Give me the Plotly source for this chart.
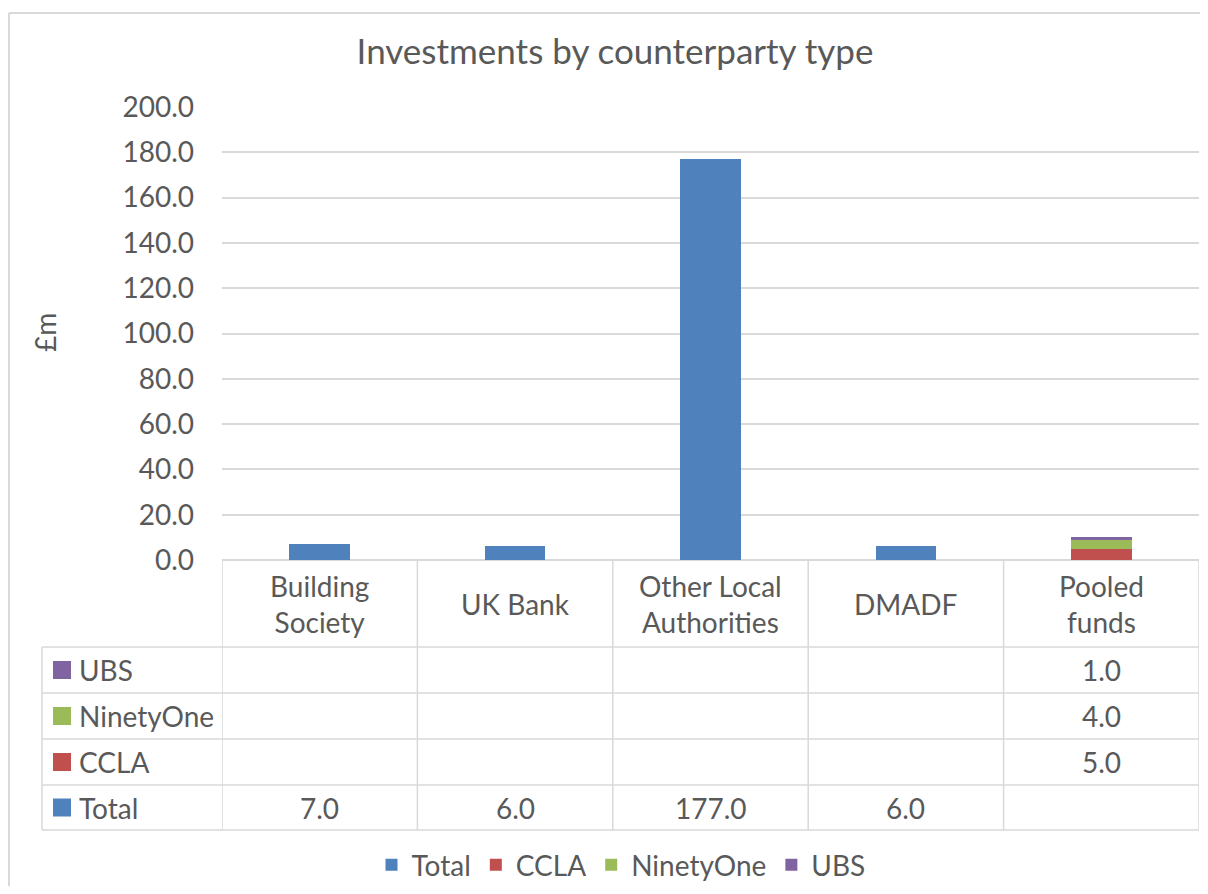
import plotly.graph_objects as go

categories = ["Building Society", "UK Bank", "Other Local Authorities", "DMADF", "Pooled funds"]
category_labels = ["Building<br>Society", "UK Bank", "Other Local<br>Authorities", "DMADF", "Pooled<br>funds"]
total = [7.0, 6.0, 177.0, 6.0, None]
ccla = [None, None, None, None, 5.0]
ninetyone = [None, None, None, None, 4.0]
ubs = [None, None, None, None, 1.0]
y_ticks = [0, 20, 40, 60, 80, 100, 120, 140, 160, 180, 200]

series = [
    ("Total", total, "#4F81BD"),
    ("CCLA", ccla, "#C0504D"),
    ("NinetyOne", ninetyone, "#9BBB59"),
    ("UBS", ubs, "#8064A2"),
]

OFF = 8  # page body margin
W, H = 1208 - 2 * OFF, 894 - 2 * OFF
FONT = "Lato"
TXT = "#595959"
GRID = "#D9D9D9"
FS = 28

def px(x):
    return (x - OFF) / W

def py(y):
    return 1 - (y - OFF) / H

fig = go.Figure()
for name, vals, col in series:
    fig.add_trace(go.Bar(
        x=categories, y=vals, name=name, marker=dict(color=col, line=dict(width=0)),
        width=0.31,
    ))

shapes = []
annotations = []

# chart border (only top and left edges are visible in the frame)
shapes.append(dict(type="line", xref="paper", yref="paper", x0=px(9), x1=1.0, y0=py(13), y1=py(13),
                   line=dict(color=GRID, width=2), layer="below"))
shapes.append(dict(type="line", xref="paper", yref="paper", x0=px(9), x1=px(9), y0=py(13), y1=0.0,
                   line=dict(color=GRID, width=2), layer="below"))

# table geometry (pixel rows)
table_top, header_bottom = 560, 647
row_lines = [647, 693, 739, 785, 830]
row_order = ["UBS", "NinetyOne", "CCLA", "Total"]
row_centers = {n: (row_lines[i] + row_lines[i + 1]) / 2 for i, n in enumerate(row_order)}

for yl in row_lines:
    shapes.append(dict(type="line", xref="paper", yref="paper", x0=px(42), x1=px(1199), y0=py(yl), y1=py(yl),
                       line=dict(color=GRID, width=1.5)))
shapes.append(dict(type="line", xref="paper", yref="paper", x0=px(42), x1=px(42), y0=py(647), y1=py(830),
                   line=dict(color=GRID, width=1.5)))
for i in range(len(categories) + 1):
    shapes.append(dict(type="line", xref="x", yref="paper", x0=i - 0.5, x1=i - 0.5, y0=py(table_top), y1=py(830),
                       line=dict(color=GRID, width=1.5)))

for c, lab in zip(categories, category_labels):
    annotations.append(dict(x=c, xref="x", y=py((table_top + header_bottom) / 2), yref="paper", text=lab,
                            showarrow=False, font=dict(family=FONT, size=FS, color=TXT), align="center",
                            xanchor="center", yanchor="middle"))

for name, vals, col in series:
    yc = row_centers[name]
    shapes.append(dict(type="rect", xref="paper", yref="paper", x0=px(53), x1=px(71), y0=py(yc - 9), y1=py(yc + 9),
                       fillcolor=col, line=dict(width=0)))
    annotations.append(dict(x=px(77), xref="paper", y=py(yc), yref="paper", text=name, showarrow=False,
                            font=dict(family=FONT, size=FS, color=TXT), xanchor="left", yanchor="middle"))
    for c, v in zip(categories, vals):
        if v is not None:
            annotations.append(dict(x=c, xref="x", y=py(yc), yref="paper", text=f"{v:.1f}", showarrow=False,
                                    font=dict(family=FONT, size=FS, color=TXT), xanchor="center", yanchor="middle"))

annotations.append(dict(x=px(45), xref="paper", y=py(333), yref="paper", text="£m", textangle=-90, showarrow=False,
                        font=dict(family=FONT, size=FS, color=TXT), xanchor="center", yanchor="middle"))

fig.update_layout(
    width=W, height=H,
    margin=dict(l=0, r=0, t=0, b=0, autoexpand=False),
    paper_bgcolor="white", plot_bgcolor="white",
    barmode="stack",
    title=dict(text="Investments by counterparty type", x=px(615), xanchor="center", y=py(52), yanchor="middle",
               font=dict(family=FONT, size=35, color=TXT)),
    xaxis=dict(domain=[px(222), px(1199)], range=[-0.5, 4.5], showticklabels=False, showgrid=False,
               showline=False, zeroline=False, fixedrange=True),
    yaxis=dict(domain=[py(560), py(107)], range=[0, 200], tickvals=y_ticks, tickformat=".1f",
               showgrid=True, gridcolor=GRID, gridwidth=1.5, zeroline=True, zerolinecolor=GRID, zerolinewidth=1.5,
               showline=False, ticks="", ticklabelstandoff=27,
               tickfont=dict(family=FONT, size=FS, color=TXT)),
    showlegend=True,
    legend=dict(orientation="h", x=px(621), xanchor="center", y=py(865), yanchor="middle",
                font=dict(family=FONT, size=FS, color=TXT), traceorder="normal", itemwidth=30),
    shapes=shapes,
    annotations=annotations,
)

fig.write_html("out.html")
